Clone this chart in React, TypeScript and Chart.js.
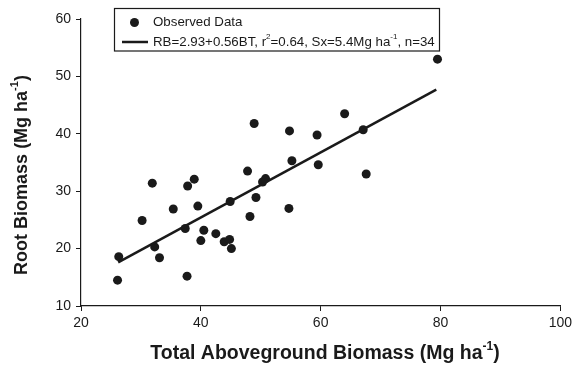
import React, { useEffect, useRef } from "react";
import { Chart, registerables } from "chart.js";

Chart.register(...registerables);

// Observed data: total aboveground biomass (x) vs root biomass (y), Mg/ha
const aboveground = [
  26.1, 26.3, 30.2, 31.9, 32.3, 33.1, 35.4, 37.4, 37.7, 37.8, 38.9, 39.5,
  40.0, 40.5, 42.5, 43.9, 44.8, 45.1, 44.9, 47.8, 48.2, 48.9, 49.2, 50.3,
  50.8, 54.7, 54.8, 55.2, 59.4, 59.6, 64.0, 67.1, 67.6, 79.5,
];
const rootBiomass = [
  14.5, 18.6, 24.9, 31.4, 20.3, 18.4, 26.9, 23.5, 15.2, 30.9, 32.1, 27.4,
  21.4, 23.2, 22.6, 21.2, 21.6, 20.0, 28.2, 33.5, 25.6, 41.8, 28.9, 31.6,
  32.2, 27.0, 40.5, 35.3, 39.8, 34.6, 43.5, 40.7, 33.0, 53.0,
];
// Fitted regression line endpoints
const fitX = [26.2, 79.3];
const fitY = [17.6, 47.7];

const xTicks = [20, 40, 60, 80, 100];
const yTicks = [10, 20, 30, 40, 50, 60];

const FONT = "'Liberation Sans', Arial, Helvetica, sans-serif";
const INK = "#1a1a1a";

type Part = { t: string; sup?: boolean };

const legendPoint = "Observed Data";
const legendLine: Part[] = [
  { t: "RB=2.93+0.56BT, r" },
  { t: "2", sup: true },
  { t: "=0.64, Sx=5.4Mg ha" },
  { t: "-1", sup: true },
  { t: ", n=34" },
];
const xTitle: Part[] = [
  { t: "Total Aboveground Biomass (Mg ha" },
  { t: "-1", sup: true },
  { t: ")" },
];
const yTitle: Part[] = [
  { t: "Root Biomass (Mg ha" },
  { t: "-1", sup: true },
  { t: ")" },
];

function drawRich(
  ctx: CanvasRenderingContext2D,
  parts: Part[],
  x: number,
  y: number,
  size: number,
  bold: boolean,
  align: "left" | "center"
) {
  const w = bold ? "bold " : "";
  const supSize = Math.round(size * 0.62);
  let total = 0;
  const widths = parts.map((p) => {
    ctx.font = `${w}${p.sup ? supSize : size}px ${FONT}`;
    const m = ctx.measureText(p.t).width;
    total += m;
    return m;
  });
  let cx = align === "center" ? x - total / 2 : x;
  ctx.textAlign = "left";
  ctx.textBaseline = "middle";
  parts.forEach((p, i) => {
    ctx.font = `${w}${p.sup ? supSize : size}px ${FONT}`;
    ctx.fillText(p.t, cx, p.sup ? y - size * 0.38 : y);
    cx += widths[i];
  });
}

const overlayPlugin = {
  id: "overlay",
  afterDraw(chart: any) {
    const ctx: CanvasRenderingContext2D = chart.ctx;
    ctx.save();
    ctx.fillStyle = INK;
    ctx.strokeStyle = INK;

    // Legend box
    ctx.fillStyle = "#fff";
    ctx.fillRect(114.5, 8.5, 325, 42.5);
    ctx.lineWidth = 1.2;
    ctx.strokeRect(114.5, 8.5, 325, 42.5);
    ctx.fillStyle = INK;
    ctx.beginPath();
    ctx.arc(134.5, 22.5, 4.5, 0, Math.PI * 2);
    ctx.fill();
    ctx.lineWidth = 2.5;
    ctx.beginPath();
    ctx.moveTo(122, 42);
    ctx.lineTo(148, 42);
    ctx.stroke();
    drawRich(ctx, [{ t: legendPoint }], 153, 22, 13.3, false, "left");
    drawRich(ctx, legendLine, 153, 42, 13.3, false, "left");

    // Axis titles
    drawRich(ctx, xTitle, 325, 354, 19.5, true, "center");
    ctx.save();
    ctx.translate(22, 175);
    ctx.rotate(-Math.PI / 2);
    drawRich(ctx, yTitle, 0, 0, 18, true, "center");
    ctx.restore();

    ctx.restore();
  },
};

export default function App() {
  const ref = useRef<HTMLCanvasElement | null>(null);

  useEffect(() => {
    document.body.style.margin = "0";
    const canvas = ref.current;
    if (!canvas) return;
    const chart = new Chart(canvas, {
      type: "scatter",
      data: {
        datasets: [
          {
            label: "Observed Data",
            data: aboveground.map((x, i) => ({ x, y: rootBiomass[i] })),
            backgroundColor: INK,
            borderWidth: 0,
            pointRadius: 4.5,
            pointHoverRadius: 4.5,
            order: 2,
          },
          {
            type: "line",
            label: "Fit",
            data: fitX.map((x, i) => ({ x, y: fitY[i] })),
            borderColor: INK,
            borderWidth: 2.5,
            pointRadius: 0,
            showLine: true,
            fill: false,
            order: 1,
          } as any,
        ],
      },
      options: {
        animation: false,
        responsive: false,
        devicePixelRatio: 1,
        layout: { padding: { top: 19, right: 15, left: 0, bottom: 0 } },
        plugins: {
          legend: { display: false },
          tooltip: { enabled: false },
        },
        scales: {
          x: {
            type: "linear",
            min: 20,
            max: 100,
            afterFit: (s: any) => {
              s.height = 60;
            },
            afterBuildTicks: (s: any) => {
              s.ticks = xTicks.map((v) => ({ value: v }));
            },
            ticks: {
              color: INK,
              font: { size: 14, family: FONT },
              padding: 4,
              maxRotation: 0,
            },
            grid: {
              drawOnChartArea: false,
              drawTicks: true,
              tickLength: 5,
              color: INK,
              lineWidth: 1,
            },
            border: { display: true, color: INK, width: 1.2 },
          },
          y: {
            type: "linear",
            min: 10,
            max: 60,
            afterFit: (s: any) => {
              s.width = 81;
            },
            afterBuildTicks: (s: any) => {
              s.ticks = yTicks.map((v) => ({ value: v }));
            },
            ticks: {
              color: INK,
              font: { size: 14, family: FONT },
              padding: 5,
            },
            grid: {
              drawOnChartArea: false,
              drawTicks: true,
              tickLength: 5,
              color: INK,
              lineWidth: 1,
            },
            border: { display: true, color: INK, width: 1.2 },
          },
        },
      },
      plugins: [overlayPlugin],
    });
    return () => chart.destroy();
  }, []);

  return (
    <div style={{ width: 576, height: 366, background: "#fff" }}>
      <canvas ref={ref} width={576} height={366} />
    </div>
  );
}
